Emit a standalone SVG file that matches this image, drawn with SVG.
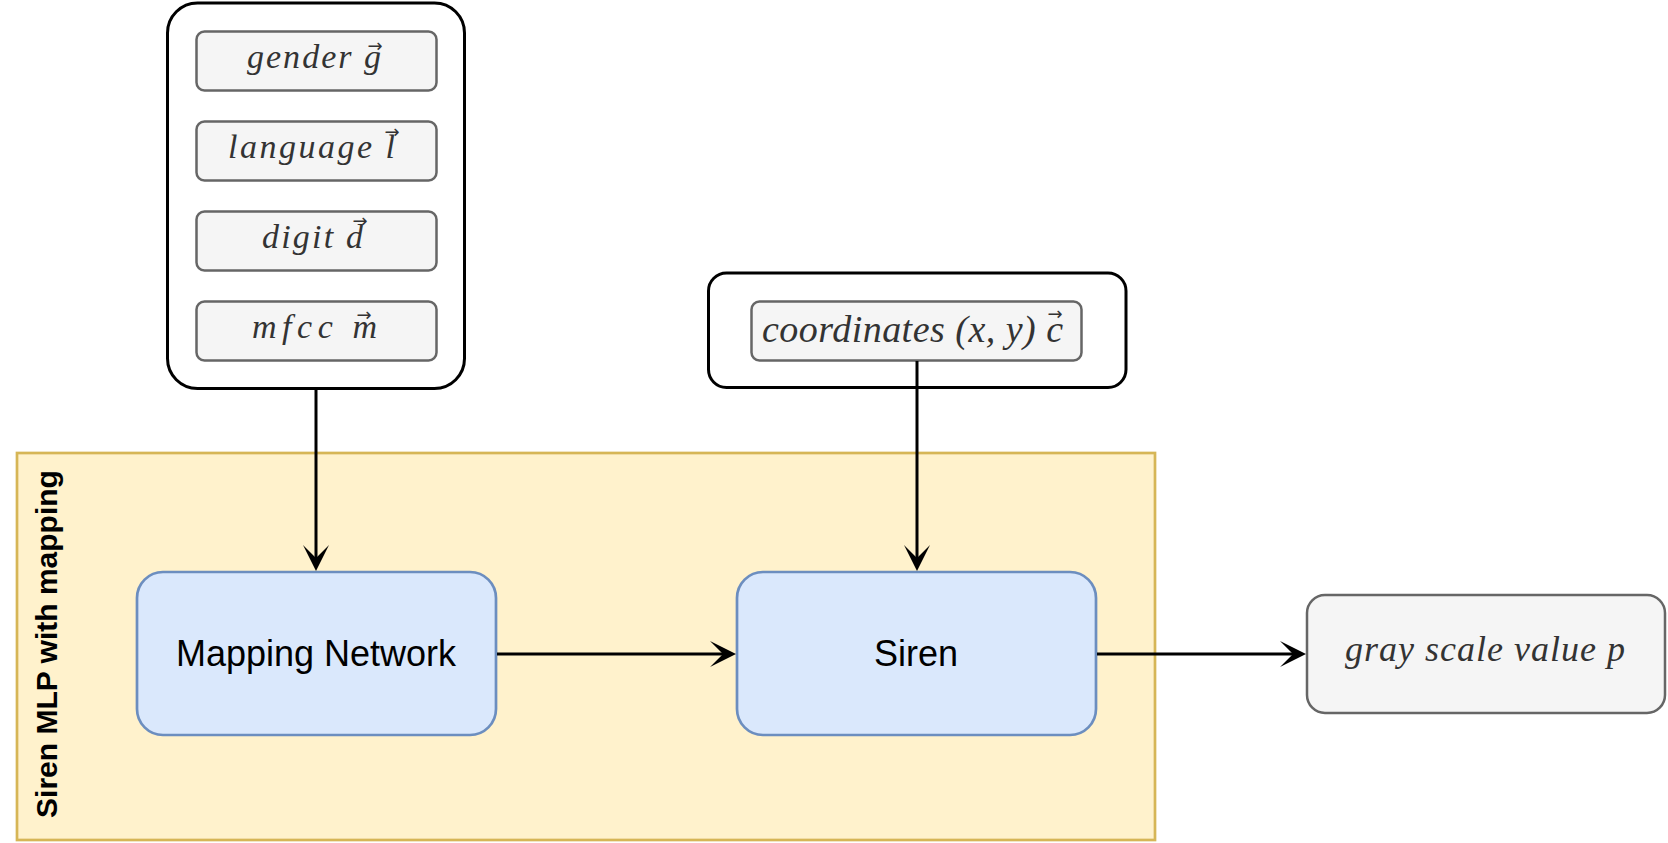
<svg xmlns="http://www.w3.org/2000/svg" width="1668" height="843" viewBox="0 0 1668 843">
<style>
.cont{fill:#ffffff;stroke:#000000;stroke-width:3}
.inp{fill:#f5f5f5;stroke:#666666;stroke-width:2.5}
.blue{fill:#dae8fc;stroke:#6c8ebf;stroke-width:2.7}
.math{font-family:"Liberation Serif","DejaVu Serif",serif;font-style:italic;fill:#333333}
.vec{font-family:"DejaVu Sans",sans-serif;font-size:18px;fill:#333333;text-anchor:middle}
.lbl{font-family:"Liberation Sans",Arial,sans-serif;font-size:36px;fill:#000000;text-anchor:middle}
.edge{fill:none;stroke:#000000;stroke-width:3}
</style>
<defs>
<marker id="arr" markerUnits="userSpaceOnUse" markerWidth="32" markerHeight="32" viewBox="-28 -16 30 32" refX="-13" refY="0" orient="auto">
<path d="M0,0 L-26,-13 L-13,0 L-26,13 Z" fill="#000000"/>
</marker>
</defs>

<g id="siren-mlp-group">
<rect x="17" y="453" width="1138" height="387" fill="#fff2cc" stroke="#d6b656" stroke-width="2.7"/>
<text transform="translate(57,644) rotate(-90)" text-anchor="middle" font-family="'Liberation Sans',Arial,sans-serif" font-size="30" font-weight="bold" fill="#000000">Siren MLP with mapping</text>
</g>

<g id="inputs-container">
<rect class="cont" x="167.5" y="3" width="297" height="385.5" rx="30"/>
</g>
<g id="gender">
<rect class="inp" x="196.5" y="31.5" width="240" height="59" rx="8"/>
<text class="math" x="247" y="68" font-size="34" textLength="134" lengthAdjust="spacing">gender g</text>
<text class="vec" x="375" y="52">→</text>
</g>
<g id="language">
<rect class="inp" x="196.5" y="121.5" width="240" height="59" rx="8"/>
<text class="math" x="228" y="158" font-size="34" textLength="167" lengthAdjust="spacing">language l</text>
<text class="vec" x="392" y="138">→</text>
</g>
<g id="digit">
<rect class="inp" x="196.5" y="211.5" width="240" height="59" rx="8"/>
<text class="math" x="262" y="248" font-size="34" textLength="101" lengthAdjust="spacing">digit d</text>
<text class="vec" x="360" y="227">→</text>
</g>
<g id="mfcc">
<rect class="inp" x="196.5" y="301.5" width="240" height="59" rx="8"/>
<text class="math" x="252" y="338" font-size="34" textLength="125" lengthAdjust="spacing">mfcc m</text>
<text class="vec" x="364" y="321">→</text>
</g>

<g id="coords-container">
<rect class="cont" x="708.5" y="273" width="417.5" height="114.5" rx="18"/>
</g>
<g id="coordinates">
<rect class="inp" x="751.5" y="301.5" width="330" height="59" rx="8"/>
<text class="math" x="762" y="342" font-size="38" textLength="301" lengthAdjust="spacing">coordinates (x, y) c</text>
<text class="vec" x="1055" y="320">→</text>
</g>

<g id="mapping-network">
<rect class="blue" x="137" y="572" width="359" height="163" rx="26"/>
<text class="lbl" x="316" y="666">Mapping Network</text>
</g>
<g id="siren">
<rect class="blue" x="737" y="572" width="359" height="163" rx="26"/>
<text class="lbl" x="916" y="666">Siren</text>
</g>
<g id="gray-scale">
<rect class="inp" x="1307" y="595" width="358" height="118" rx="18"/>
<text class="math" x="1345" y="661" font-size="36" textLength="280" lengthAdjust="spacing">gray scale value p</text>
</g>

<g id="connectors">
<line class="edge" x1="316" y1="390" x2="316" y2="558" marker-end="url(#arr)"/>
<line class="edge" x1="917" y1="361" x2="917" y2="558" marker-end="url(#arr)"/>
<line class="edge" x1="497" y1="654" x2="723" y2="654" marker-end="url(#arr)"/>
<line class="edge" x1="1097" y1="654" x2="1293" y2="654" marker-end="url(#arr)"/>
</g>
</svg>
